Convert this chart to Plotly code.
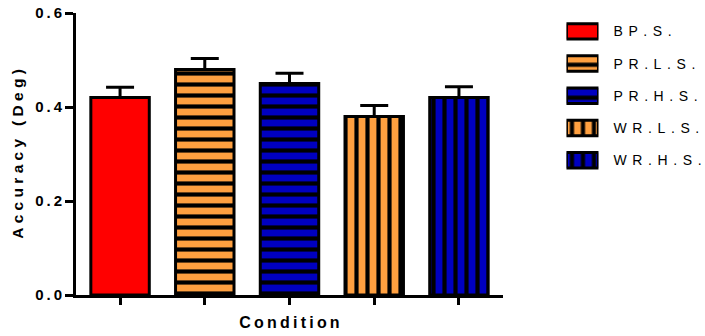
import plotly.graph_objects as go

# ---- data ----
conditions = ["BP.S.", "PR.L.S.", "PR.H.S.", "WR.L.S.", "WR.H.S."]
accuracy = [0.42, 0.48, 0.45, 0.38, 0.42]
sem = [0.022, 0.023, 0.022, 0.023, 0.023]
y_ticks = [0.0, 0.2, 0.4, 0.6]
y_tick_labels = ["0.0", "0.2", "0.4", "0.6"]

# ---- styles ----
colors = ["#FF0000", "#FFA040", "#0000C0", "#FFA040", "#0000C0"]
shapes = ["", "-", "-", "|", "|"]
FONT = "Arial, 'Liberation Sans', sans-serif"


def spaced(s, sep):
    return sep.join(list(s))


def bar_marker(i):
    return dict(
        color=colors[i],
        line=dict(color="black", width=3),
        pattern=dict(shape=shapes[i], fgcolor="black", bgcolor=colors[i],
                     size=11, solidity=0.38, fillmode="replace"),
    )


fig = go.Figure()
for i, (c, v, e) in enumerate(zip(conditions, accuracy, sem)):
    fig.add_trace(go.Bar(
        x=[c], y=[v],
        name=c, showlegend=False,
        width=0.69,
        marker=bar_marker(i),
        error_y=dict(type="data", symmetric=False, array=[e], arrayminus=[0],
                     color="black", thickness=3, width=14),
        xaxis="x", yaxis="y",
    ))

# legend drawn as a small horizontal-bar key (each swatch spans the key axis 0..1)
for i, c in enumerate(conditions):
    fig.add_trace(go.Bar(
        y=[c], x=[1], orientation="h",
        width=0.48, showlegend=False, hoverinfo="skip",
        marker=bar_marker(i),
        xaxis="x2", yaxis="y2",
    ))

fig.update_layout(
    width=705, height=336,
    margin=dict(l=76, r=5, t=13, b=41, autoexpand=False),
    paper_bgcolor="white", plot_bgcolor="white",
    barmode="overlay",
    font=dict(family=FONT, color="black"),
    showlegend=False,
    xaxis=dict(
        domain=[0, 0.6843],
        categoryorder="array", categoryarray=conditions,
        range=[-0.52, 4.52], automargin=False,
        showline=True, linecolor="black", linewidth=3,
        ticks="outside", ticklen=7, tickwidth=3, tickcolor="black",
        showticklabels=False, showgrid=False, zeroline=False,
        title=dict(text=spaced("Condition", "\u2009"),
                   font=dict(size=16, family=FONT, weight="bold"), standoff=13),
    ),
    yaxis=dict(
        range=[0, 0.6], automargin=False,
        tickvals=y_ticks, ticktext=[spaced(t, "\u2009") for t in y_tick_labels],
        tickfont=dict(size=15, family=FONT, weight="bold"),
        showline=True, linecolor="black", linewidth=3,
        ticks="outside", ticklen=8, tickwidth=3, tickcolor="black",
        showgrid=False, zeroline=False,
        title=dict(text=spaced("Accuracy (Deg)", "\u00a0"),
                   font=dict(size=15.5, family=FONT, weight="bold"), standoff=8),
    ),
    xaxis2=dict(
        domain=[0.786, 0.8373], range=[0, 1], anchor="y2",
        visible=False, fixedrange=True,
    ),
    yaxis2=dict(
        domain=[0.4206, 0.992], anchor="x2", side="right",
        categoryorder="array", categoryarray=conditions,
        range=[4.5, -0.5], automargin=False,
        showline=False, showgrid=False, zeroline=False, ticks="",
        tickvals=conditions,
        ticktext=[spaced(c, "\u2009\u2009") for c in conditions],
        tickfont=dict(size=14, family=FONT, color="black"),
        ticklabelstandoff=14, fixedrange=True,
    ),
)

fig.write_html("out.html", config={"displayModeBar": False},
               post_script="document.body.style.margin='0';")
